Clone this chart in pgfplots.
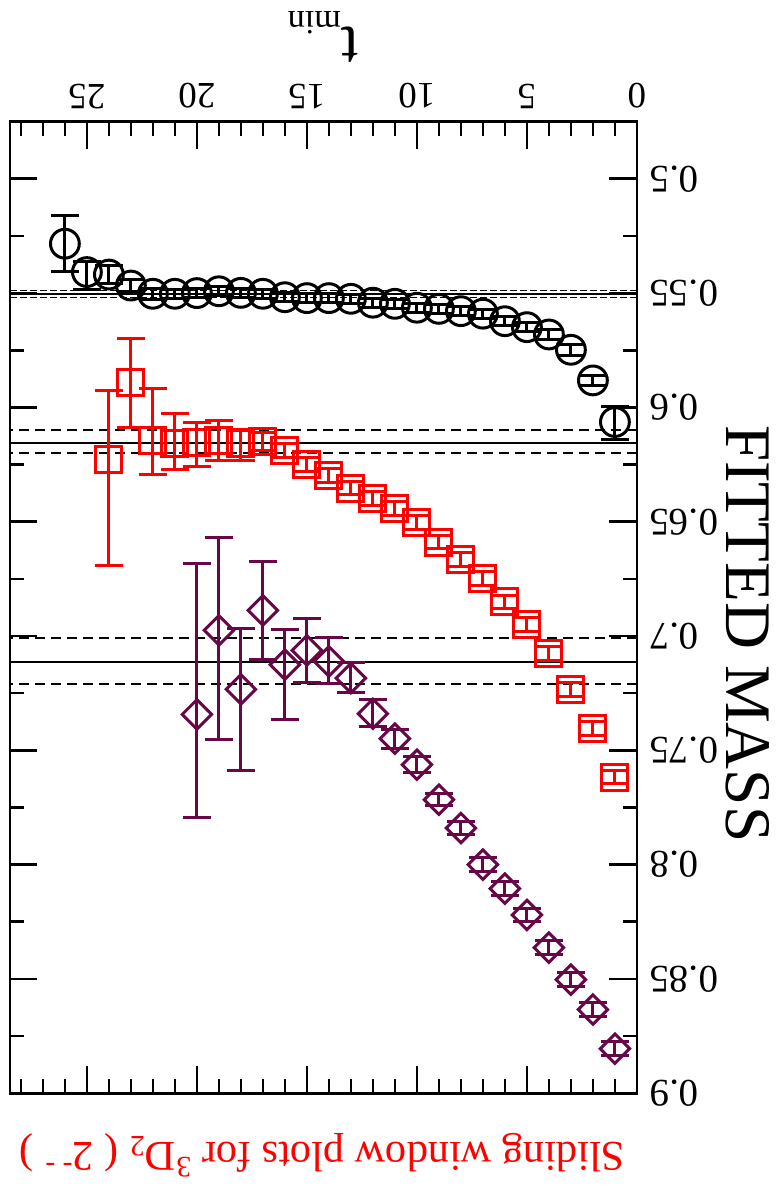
\documentclass[border=0pt]{standalone}
\usepackage{pgfplots}
\pgfplotsset{compat=1.18}
\usepackage{fontspec}
\setmainfont{Liberation Serif}
\definecolor{mymaroon}{RGB}{103,7,72}
\begin{document}
\begin{tikzpicture}
\begin{axis}[
  scale only axis, width=313.5pt, height=485.8pt,
  xmin=0, xmax=28.5, ymin=0.475, ymax=0.9,
  x dir=reverse, y dir=reverse,
  clip=false,
  axis line style={line width=1.3pt},
  every tick/.style={black, line width=1.3pt},
  tick align=inside,
  major tick length=13.8pt, minor tick length=7pt,
  xtick={0,5,10,15,20,25}, xticklabels={0,5,10,15,20,25},
  minor xtick={1,2,3,4,6,7,8,9,11,12,13,14,16,17,18,19,21,22,23,24,26,27,28},
  ytick={0.5,0.55,0.6,0.65,0.7,0.75,0.8,0.85,0.9},
  yticklabels={0.5,0.55,0.6,0.65,0.7,0.75,0.8,0.85,0.9},
  minor ytick={0.525,0.575,0.625,0.675,0.725,0.775,0.825,0.875},
  xticklabel pos=right, yticklabel pos=right,
  xticklabel shift=3pt, yticklabel shift=3pt,
  xticklabel style={rotate=180, anchor=north, font=\fontsize{18.5}{20}\selectfont},
  yticklabel style={rotate=180, anchor=east, font=\fontsize{19.5}{21}\selectfont},
]
% fit lines
\addplot[black, line width=0.8pt] coordinates {(0,0.5503) (28.5,0.5503)};
\addplot[black, line width=0.6pt, dash pattern=on 3.5pt off 1.5pt] coordinates {(0,0.5488) (28.5,0.5488)};
\addplot[black, line width=0.6pt, dash pattern=on 3.5pt off 1.5pt] coordinates {(0,0.5518) (28.5,0.5518)};
\addplot[black, line width=1.1pt] coordinates {(0,0.6155) (28.5,0.6155)};
\addplot[black, line width=1.1pt, dash pattern=on 5pt off 3pt] coordinates {(0,0.6098) (28.5,0.6098)};
\addplot[black, line width=1.1pt, dash pattern=on 5pt off 3pt] coordinates {(0,0.6200) (28.5,0.6200)};
\addplot[black, line width=1.1pt] coordinates {(0,0.7115) (28.5,0.7115)};
\addplot[black, line width=1.1pt, dash pattern=on 5pt off 3pt] coordinates {(0,0.7010) (28.5,0.7010)};
\addplot[black, line width=1.1pt, dash pattern=on 5pt off 3pt] coordinates {(0,0.7211) (28.5,0.7211)};
% black circles
\addplot[black, only marks, mark=o, mark size=7.2pt, mark options={line width=1.5pt},
  error bars/.cd, y dir=both, y explicit,
  error bar style={line width=1.5pt},
  error mark options={rotate=90, mark size=6.9pt, line width=1.5pt, black}]
  table[x=t, y=m, y error plus=ep, y error minus=em] {
t m ep em
1 0.6064 0.0077 0.0069
2 0.5882 0.0023 0.0023
3 0.5748 0.0023 0.0023
4 0.5681 0.002 0.002
5 0.5649 0.002 0.002
6 0.5623 0.002 0.002
7 0.5590 0.002 0.002
8 0.5579 0.002 0.002
9 0.5569 0.002 0.002
10 0.5564 0.002 0.002
11 0.5547 0.002 0.002
12 0.5542 0.002 0.002
13 0.5525 0.002 0.002
14 0.5522 0.002 0.002
15 0.5522 0.002 0.002
16 0.5518 0.002 0.002
17 0.5503 0.002 0.002
18 0.5499 0.002 0.002
19 0.5492 0.002 0.002
20 0.5500 0.002 0.002
21 0.5503 0.002 0.002
22 0.5503 0.0025 0.0025
23 0.5467 0.0028 0.0028
24 0.5419 0.004 0.004
25 0.5408 0.0077 0.0047
26 0.5284 0.0120 0.0124
};
% red squares
\addplot[red, only marks, mark=square, mark size=6.5pt, mark options={line width=1.5pt},
  error bars/.cd, y dir=both, y explicit,
  error bar style={line width=1.5pt},
  error mark options={rotate=90, mark size=6.9pt, line width=1.5pt, red}]
  table[x=t, y=m, y error plus=ep, y error minus=em] {
t m ep em
1 0.7617 0.003 0.003
2 0.7403 0.003 0.003
3 0.7233 0.003 0.003
4 0.7075 0.003 0.003
5 0.6950 0.003 0.003
6 0.6851 0.003 0.003
7 0.6749 0.003 0.003
8 0.6666 0.003 0.003
9 0.6589 0.003 0.003
10 0.6502 0.003 0.003
11 0.6443 0.003 0.003
12 0.6397 0.003 0.003
13 0.6353 0.003 0.003
14 0.6298 0.003 0.003
15 0.6250 0.003 0.003
16 0.6190 0.003 0.003
17 0.6150 0.004 0.004
18 0.6158 0.0076 0.0060
19 0.6146 0.0086 0.0089
20 0.6152 0.0105 0.0087
21 0.6158 0.0112 0.0133
22 0.6145 0.0150 0.0226
23 0.5889 0.0200 0.0192
24 0.6228 0.0464 0.0302
};
% maroon diamonds
\addplot[mymaroon, only marks, mark=square, mark size=5.2pt, mark options={line width=1.5pt, rotate=45},
  error bars/.cd, y dir=both, y explicit,
  error bar style={line width=1.5pt},
  error mark options={rotate=90, mark size=6.9pt, line width=1.5pt, mymaroon}]
  table[x=t, y=m, y error plus=ep, y error minus=em] {
t m ep em
1 0.8805 0.003 0.003
2 0.8634 0.003 0.003
3 0.8503 0.003 0.003
4 0.8363 0.003 0.003
5 0.8220 0.003 0.003
6 0.8105 0.003 0.003
7 0.8000 0.003 0.003
8 0.7840 0.003 0.003
9 0.7716 0.0025 0.0025
10 0.7563 0.0034 0.0034
11 0.7449 0.0044 0.0039
12 0.7340 0.0054 0.0063
13 0.7184 0.0061 0.0067
14 0.7111 0.0098 0.0104
15 0.7063 0.0141 0.0141
16 0.7125 0.0239 0.0153
17 0.6888 0.0214 0.0214
18 0.7233 0.0354 0.0268
19 0.6975 0.0477 0.0408
20 0.7343 0.0453 0.0659
};
% labels
\node[rotate=180, anchor=base, text=red, font=\fontsize{21.2}{24}\selectfont, inner sep=0pt]
  at (axis cs:14.3,0.9215) {Sliding window plots for \textsuperscript{3}D\textsubscript{2} ( 2\textsuperscript{- -} )};
\node[rotate=180, anchor=base, font=\fontsize{31}{34}\selectfont, inner sep=0pt]
  at (axis cs:14.27,0.434) {t\raisebox{-8pt}{\fontsize{17}{20}\selectfont min}};
\node[rotate=-90, anchor=base, font=\fontsize{32.5}{36}\selectfont, inner sep=0pt, text height=21pt, text depth=0pt]
  at (axis cs:-4.05,0.699) {FITTED MASS};
\coordinate (bbA) at (axis cs:28.95,0.4218);
\coordinate (bbB) at (axis cs:-6.318,0.9432);
\end{axis}
\pgfresetboundingbox
\useasboundingbox (bbA) rectangle (bbB);
\end{tikzpicture}
\end{document}
